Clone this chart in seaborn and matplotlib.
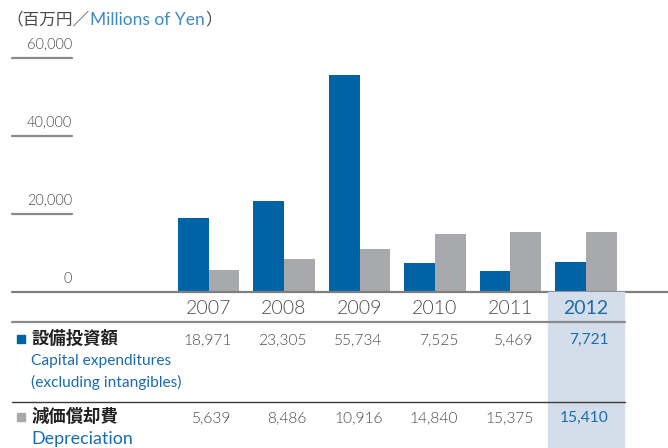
import matplotlib
matplotlib.use("Agg")
import matplotlib.pyplot as plt
from matplotlib.patches import Rectangle
from matplotlib.lines import Line2D
import seaborn as sns
import pandas as pd

# ---- data ----
years = ["2007", "2008", "2009", "2010", "2011", "2012"]
capex = [18971, 23305, 55734, 7525, 5469, 7721]
depreciation = [5639, 8486, 10916, 14840, 15375, 15410]
capex_labels = ["18,971", "23,305", "55,734", "7,525", "5,469", "7,721"]
dep_labels = ["5,639", "8,486", "10,916", "14,840", "15,375", "15,410"]
yticks = [0, 20000, 40000, 60000]
ytick_labels = ["0", "20,000", "40,000", "60,000"]
series_names = ["設備投資額", "減価償却費"]

BLUE = "#0063a6"
GRAY_BAR = "#a7a9ac"
TXT = "#4a4a4a"
BLUE_TXT = "#1a6cb0"
LIGHT_BLUE_TXT = "#3d8ac6"
HIGHLIGHT = "#d4deeb"
LW = 300

W, H = 668, 448
sns.set_theme(style="white")
plt.rcParams["font.family"] = ["Lato", "Noto Sans CJK JP", "DejaVu Sans"]
fig = plt.figure(figsize=(W / 100, H / 100), dpi=100)


def fx(x):
    return x / W


def fy(y):
    return 1 - y / H


# geometry (pixels)
base_y = 292
top_y = 40
px_per_unit = 78 / 20000
c0, step = 208.5, 75.5
left_px, right_px = 12, 668

ax = fig.add_axes([fx(left_px), fy(base_y), fx(right_px - left_px), (base_y - top_y) / H])
ax.set_facecolor("none")

df = pd.DataFrame({
    "year": years * 2,
    "value": capex + depreciation,
    "series": [series_names[0]] * len(years) + [series_names[1]] * len(years),
})
sns.barplot(data=df, x="year", y="value", hue="series", order=years,
            hue_order=series_names, palette=[BLUE, GRAY_BAR], saturation=1,
            width=0.81, linewidth=0, legend=False, ax=ax, zorder=2)

ax.set_xlim((left_px - c0) / step, (right_px - c0) / step)
ax.set_ylim(0, (base_y - top_y) / px_per_unit)
for s in ax.spines.values():
    s.set_visible(False)
ax.set_xticks([])
ax.set_yticks([])
ax.set_xlabel("")
ax.set_ylabel("")

# baseline and tick rules
ax.axhline(0, color="#7f7f7f", lw=1.6, zorder=3, clip_on=False)
tr = ax.get_yaxis_transform()
for v in yticks[1:]:
    ax.plot([0, (72 - left_px) / (right_px - left_px)], [v, v], color="#8a8a8a",
            lw=1.6, transform=tr, clip_on=False)
for v, lab in zip(yticks, ytick_labels):
    ax.text((72 - left_px) / (right_px - left_px), v + 13.5 / px_per_unit, lab,
            transform=tr, ha="right", va="center", fontsize=10.5,
            color=TXT, fontweight=LW)

# highlight column for 2012
hx = c0 + 5 * step
fig.patches.append(Rectangle((fx(hx - 38), 0), fx(76), fy(base_y),
                             transform=fig.transFigure, color=HIGHLIGHT, zorder=0))

# rules in the table
fig.add_artist(Line2D([fx(12), fx(625)], [fy(322), fy(322)], color="#8a8a8a", lw=1.6))
fig.add_artist(Line2D([fx(12), fx(625)], [fy(402), fy(402)], color="#3a3a3a", lw=1.0))

# years
for i, yr in enumerate(years):
    last = i == len(years) - 1
    fig.text(fx(c0 + i * step), fy(308), yr, ha="center", va="center",
             fontsize=14, color=BLUE_TXT if last else TXT,
             fontweight="normal" if last else LW)

# table values
for i in range(len(years)):
    last = i == len(years) - 1
    col = BLUE_TXT if last else TXT
    fw = "normal" if last else LW
    xr = c0 + i * step + 23
    fig.text(fx(xr), fy(340), capex_labels[i], ha="right", va="center",
             fontsize=11.2, color=col, fontweight=fw)
    fig.text(fx(xr), fy(418), dep_labels[i], ha="right", va="center",
             fontsize=11.2, color=col, fontweight=fw)

# row labels
fig.patches.append(Rectangle((fx(16.5), fy(343)), fx(8), 8 / H,
                             transform=fig.transFigure, color=BLUE, zorder=3))
fig.patches.append(Rectangle((fx(16.5), fy(421)), fx(8), 8 / H,
                             transform=fig.transFigure, color=GRAY_BAR, zorder=3))
cjk = ["Noto Sans CJK JP", "DejaVu Sans"]
fig.text(fx(31), fy(339), series_names[0], ha="left", va="center", fontsize=12.5,
         color="#222222", fontweight="bold", family=cjk)
fig.text(fx(31), fy(417), series_names[1], ha="left", va="center", fontsize=12.5,
         color="#222222", fontweight="bold", family=cjk)
fig.text(fx(31), fy(361), "Capital expenditures", ha="left", va="center",
         fontsize=11.2, color=BLUE_TXT)
fig.text(fx(31), fy(382), "(excluding intangibles)", ha="left", va="center",
         fontsize=11.2, color=BLUE_TXT)
fig.text(fx(31), fy(439), "Depreciation", ha="left", va="center",
         fontsize=12.9, color=BLUE_TXT)

# title (three pieces)
fig.text(fx(90), fy(20), "（百万円／", ha="right", va="center", fontsize=12,
         color=TXT, family=cjk)
t_en = fig.text(fx(90), fy(20), "Millions of Yen", ha="left", va="center",
                fontsize=12.5, color=LIGHT_BLUE_TXT)
fig.canvas.draw()
bb = t_en.get_window_extent()
fig.text(bb.x1 / W, fy(20), "）", ha="left", va="center", fontsize=12,
         color=TXT, family=cjk)

fig.savefig("out.png", dpi=100)
